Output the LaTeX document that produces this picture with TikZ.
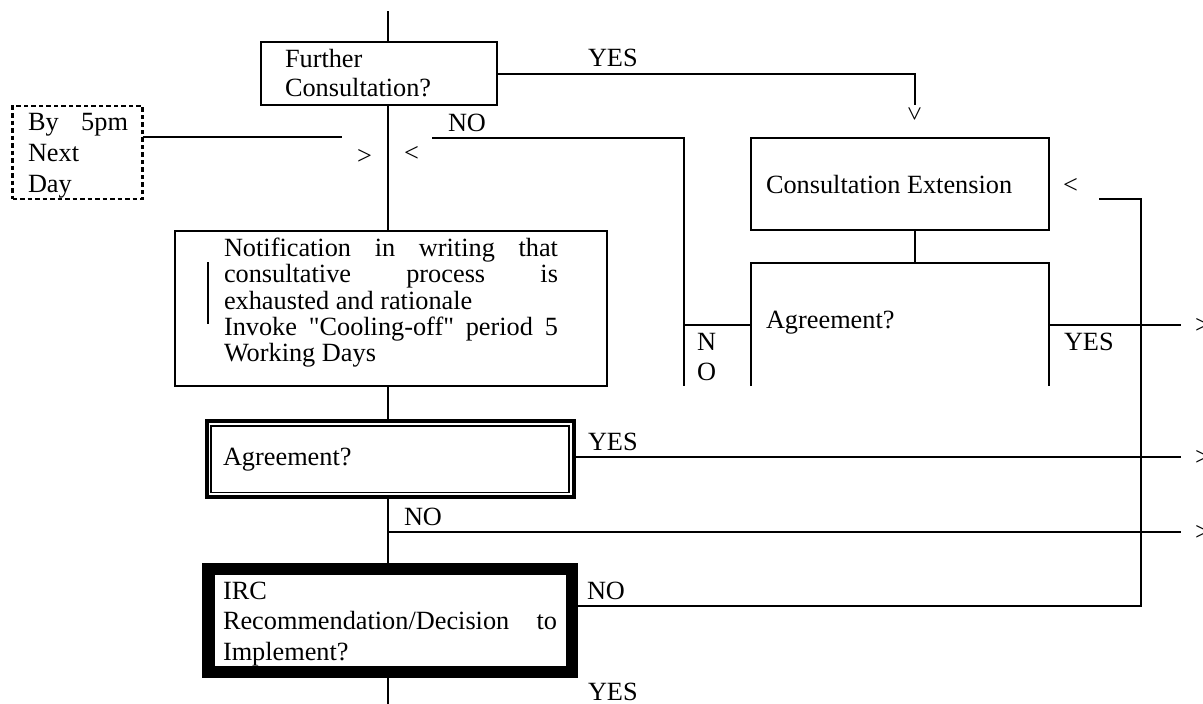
\documentclass[tikz,border=0pt]{standalone}
\usepackage{fontspec}
\setmainfont{Liberation Serif}[Ligatures=TeXOff]
\begin{document}
\begin{tikzpicture}[x=1pt,y=-1pt, line width=2pt,
  box/.style={draw, rectangle, inner sep=0pt, outer sep=0pt},
  frame/.style={rectangle, inner sep=0pt, outer sep=0pt},
  txt/.style={anchor=base west, inner sep=0pt, outer sep=0pt, font=\fontsize{26.3}{30}\selectfont},
  para/.style={txt, text width=#1, align=justify},
  sym/.style={anchor=base west, inner sep=0pt, outer sep=0pt, font=\fontsize{26.3}{30}\selectfont},
]
\useasboundingbox (0,0) rectangle (1203,704);

% boxes
\node[box, minimum width=236, minimum height=63] (further) at (379,73.5) {};
\node[box, dash pattern=on 4.5pt off 3pt, line width=2.5pt, minimum width=130, minimum height=93] (byday) at (77.5,152.5) {};
\node[box, minimum width=298, minimum height=92] (consext) at (899.7,184) {};
\node[frame, minimum width=298.3, minimum height=123] (agreeR) at (899.85,324.5) {};
\draw (agreeR.south west) -- (agreeR.north west) -- (agreeR.north east) -- (agreeR.south east);
\node[box, minimum width=432, minimum height=154.7] (notif) at (391,308.35) {};
\node[box, line width=4pt, minimum width=366.7, minimum height=75.9] (agree) at (390.35,459.25) {};
\draw[line width=1.5pt] ([shift={(4,4.5)}]agree.north west) rectangle ([shift={(-4.5,-4.7)}]agree.south east);
\node[box, line width=12.5pt, minimum width=363.5, minimum height=103] (irc) at (390.25,620.5) {};

% coordinates
\coordinate (top) at (388,11);
\coordinate (bottom) at (388,704);
\coordinate (bydayend) at (341.7,137.3);
\coordinate (noleft) at (432,137.7);
\coordinate (nocorner) at (683.5,137.7);
\coordinate (noend) at (683.5,386);
\coordinate (yesend) at (915,105);
\coordinate (retcorner) at (1141,605.7);
\coordinate (rettop) at (1141,199.3);
\coordinate (retend) at (1099,199.3);
\coordinate (outA) at (1181,325);
\coordinate (outB) at (1181,457);
\coordinate (outC) at (1181,532);
\coordinate (nobranch) at (388,532);

% connectors
\draw (top) -- (top |- further.north);
\draw (top |- further.south) -- (top |- notif.north);
\draw (top |- notif.south) -- (top |- agree.north);
\draw (top |- agree.south) -- (top |- irc.north);
\draw (top |- irc.south) -- (bottom);
\draw (further.east) -| (yesend);
\draw (byday.east |- bydayend) -- (bydayend);
\draw (noleft) -- (nocorner) -- (noend);
\draw (nocorner |- agreeR.west) -- (agreeR.west);
\draw (consext.south -| yesend) -- (agreeR.north -| yesend);
\draw (agreeR.east) -- (agreeR.east -| outA);
\draw (agree.east |- outB) -- (outB);
\draw (nobranch) -- (outC);
\draw (irc.east |- retcorner) -- (retcorner) -- (rettop) -- (retend);
\draw[line width=1.7pt] (208,262) -- (208,324);

% texts
\node[para=210, align=left, font=\fontsize{26.3}{29.5}\selectfont] (tfurther) at (285,67.3) {Further\\Consultation?};
\node[para=100, font=\fontsize{26.3}{30.7}\selectfont] (tbyday) at (28,130.7) {By 5pm\linebreak Next\\Day};
\node[txt] (yes1) at (588,66.7) {YES};
\node[txt] (no1) at (448,131) {NO};
\node[sym] (gt1) at (357,164) {>};
\node[sym] (lt1) at (404,161) {<};
\node[inner sep=0pt, rotate=-90, font=\fontsize{26.3}{30}\selectfont] (vsym) at (913.5,114) {>};
\node[txt] (tconsext) at (766,193.3) {Consultation Extension};
\node[sym] (lt2) at (1063,193) {<};
\node[para=334, font=\fontsize{26.3}{26.25}\selectfont] (tnotif) at (224,256.7) {Notification in writing that\linebreak consultative process is\linebreak exhausted and rationale\\Invoke "Cooling-off" period 5\linebreak Working Days};
\node[txt] (tagreeR) at (766,328) {Agreement?};
\node[para=40, align=left] (no2) at (697,350) {N\\O};
\node[txt] (yes2) at (1064,350) {YES};
\node[sym] (gtA) at (1195,333) {>};
\node[sym] (gtB) at (1195,465) {>};
\node[sym] (gtC) at (1195,540) {>};
\node[txt] (tagree) at (223,465) {Agreement?};
\node[txt] (yes3) at (588,450) {YES};
\node[txt] (no3) at (404,525) {NO};
\node[para=334, font=\fontsize{26.3}{30.5}\selectfont] (tirc) at (223,599) {IRC\\Recommendation/Decision to\linebreak Implement?};
\node[txt] (no4) at (587,599) {NO};
\node[txt] (yes4) at (588,700) {YES};
\end{tikzpicture}
\end{document}
